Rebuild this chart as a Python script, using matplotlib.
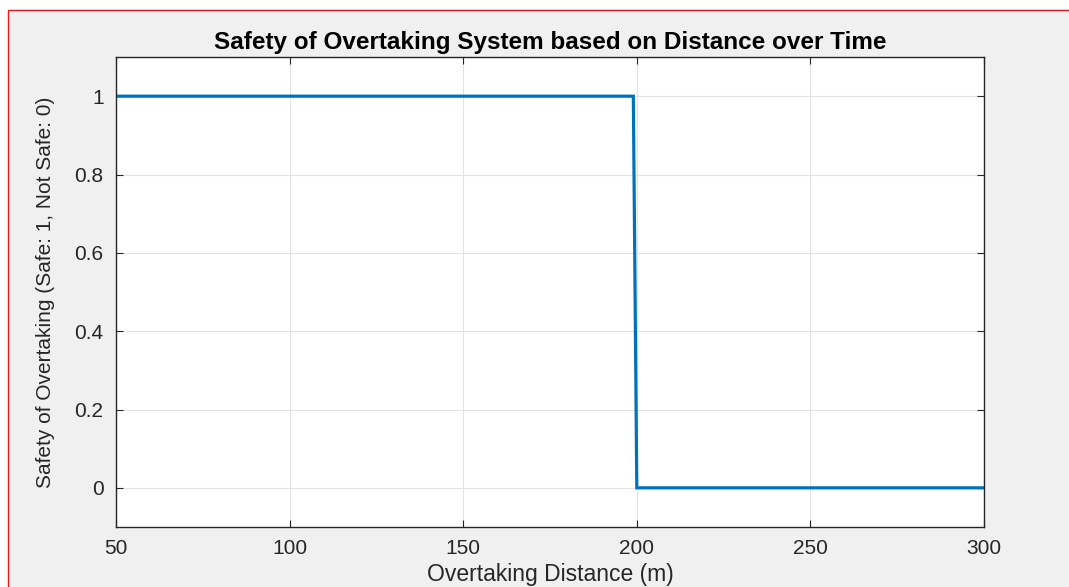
import matplotlib
matplotlib.use("Agg")
import matplotlib.pyplot as plt
from matplotlib.patches import Rectangle

# Step response of the overtaking safety rule
distance = [50, 199, 200, 300]
safety = [1, 1, 0, 0]

x_ticks = [50, 100, 150, 200, 250, 300]
y_ticks = [0, 0.2, 0.4, 0.6, 0.8, 1.0]
y_tick_labels = ["0", "0.2", "0.4", "0.6", "0.8", "1"]

W, H = 1069, 587
fig = plt.figure(figsize=(W / 100, H / 100), dpi=100, facecolor="white")

# window panel with red frame
fig.patches.append(Rectangle((8 / W, -0.01), 1.02, 1 - 10 / H + 0.01,
                             transform=fig.transFigure, facecolor="#f0f0f0",
                             edgecolor="#e8181b", linewidth=1.0, zorder=-10))

plt.rcParams["font.family"] = ["Liberation Sans", "DejaVu Sans"]
text_color = "#262626"

ax = fig.add_axes([116 / W, 1 - 527 / H, (984 - 116) / W, (527 - 57) / H])
ax.set_facecolor("white")
ax.plot(distance, safety, color="#0072BD", linewidth=2.3, solid_joinstyle="miter")

ax.set_xlim(50, 300)
ax.set_ylim(-0.1, 1.1)
ax.set_xticks(x_ticks)
ax.set_xticklabels([str(v) for v in x_ticks])
ax.set_yticks(y_ticks)
ax.set_yticklabels(y_tick_labels)
ax.grid(True, color="#e3e3e3", linewidth=0.8)
ax.set_axisbelow(True)

ax.tick_params(direction="in", top=True, right=True, length=5, width=0.8,
               colors=text_color, labelsize=15, pad=9)
for s in ax.spines.values():
    s.set_color("#262626")
    s.set_linewidth(1.0)

ax.set_title("Safety of Overtaking System based on Distance over Time",
             fontsize=17.5, fontweight="bold", color="black", pad=6)
ax.set_xlabel("Overtaking Distance (m)", fontsize=16.5, color=text_color, labelpad=3)
ax.set_ylabel("Safety of Overtaking (Safe: 1, Not Safe: 0)",
              fontsize=15, color=text_color, labelpad=14)

fig.savefig("out.png", dpi=100, facecolor=fig.get_facecolor())
